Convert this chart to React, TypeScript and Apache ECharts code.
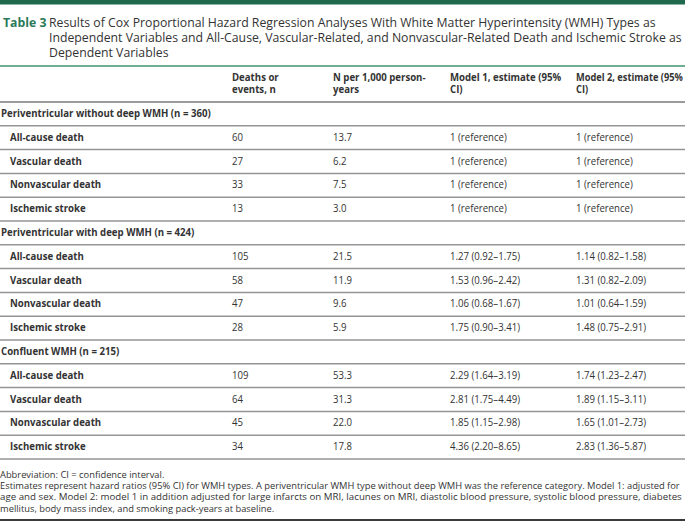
import React, { useEffect, useRef } from "react";
import * as echarts from "echarts";

// ---------- data ----------
const tableLabel = "Table 3";
const captionLines = [
  "Results of Cox Proportional Hazard Regression Analyses With White Matter Hyperintensity (WMH) Types as",
  "Independent Variables and All-Cause, Vascular-Related, and Nonvascular-Related Death and Ischemic Stroke as",
  "Dependent Variables",
];
const headerLines = [
  ["", ""],
  ["Deaths or", "events, n"],
  ["N per 1,000 person-", "years"],
  ["Model 1, estimate (95%", "CI)"],
  ["Model 2, estimate (95%", "CI)"],
];
const groups = [
  "Periventricular without deep WMH (n = 360)",
  "Periventricular with deep WMH (n = 424)",
  "Confluent WMH (n = 215)",
];
const outcomes = ["All-cause death", "Vascular death", "Nonvascular death", "Ischemic stroke"];
const events = [
  [60, 27, 33, 13],
  [105, 58, 47, 28],
  [109, 64, 45, 34],
];
const ratePer1000 = [
  [13.7, 6.2, 7.5, 3.0],
  [21.5, 11.9, 9.6, 5.9],
  [53.3, 31.3, 22.0, 17.8],
];
const isReference = [true, false, false];
const model1Est = [[1, 1, 1, 1], [1.27, 1.53, 1.06, 1.75], [2.29, 2.81, 1.85, 4.36]];
const model1Lo = [[1, 1, 1, 1], [0.92, 0.96, 0.68, 0.9], [1.64, 1.75, 1.15, 2.2]];
const model1Hi = [[1, 1, 1, 1], [1.75, 2.42, 1.67, 3.41], [3.19, 4.49, 2.98, 8.65]];
const model2Est = [[1, 1, 1, 1], [1.14, 1.31, 1.01, 1.48], [1.74, 1.89, 1.65, 2.83]];
const model2Lo = [[1, 1, 1, 1], [0.82, 0.82, 0.64, 0.75], [1.23, 1.15, 1.01, 1.36]];
const model2Hi = [[1, 1, 1, 1], [1.58, 2.09, 1.59, 2.91], [2.47, 3.11, 2.73, 5.87]];
const footnotes = [
  "Abbreviation: CI = confidence interval.",
  "Estimates represent hazard ratios (95% CI) for WMH types. A periventricular WMH type without deep WMH was the reference category. Model 1: adjusted for",
  "age and sex. Model 2: model 1 in addition adjusted for large infarcts on MRI, lacunes on MRI, diastolic blood pressure, systolic blood pressure, diabetes",
  "mellitus, body mass index, and smoking pack-years at baseline.",
];

// ---------- layout / style ----------
const W = 685;
const H = 523;
const COL_X = [10, 232, 333, 450, 576];
const GROUP_X = 1;
const FONT_FAMILY = '"Open Sans", "Noto Sans", sans-serif';
const BOLD_FONT = `bold 11px ${FONT_FAMILY}`;
const REG_FONT = `11px ${FONT_FAMILY}`;
const TITLE_FONT = `13px ${FONT_FAMILY}`;
const TITLE_BOLD_FONT = `bold 13px ${FONT_FAMILY}`;
const FOOT_FONT = `9.5px ${FONT_FAMILY}`;
const TEXT_COLOR = "#333333";
const GREEN_DARK = "#1f6a4e";
const GREEN_TEXT = "#2a7a5a";
const GREEN_RULE = "#6fae93";
const RULE_COLOR = "#959595";

type Row = { kind: "group" | "item"; cells: string[] };

function fmt(v: number) {
  return v.toFixed(2);
}

function buildRows(): Row[] {
  const rows: Row[] = [];
  groups.forEach((g, gi) => {
    rows.push({ kind: "group", cells: [g] });
    outcomes.forEach((o, oi) => {
      const m1 = isReference[gi]
        ? "1 (reference)"
        : `${fmt(model1Est[gi][oi])} (${fmt(model1Lo[gi][oi])}–${fmt(model1Hi[gi][oi])})`;
      const m2 = isReference[gi]
        ? "1 (reference)"
        : `${fmt(model2Est[gi][oi])} (${fmt(model2Lo[gi][oi])}–${fmt(model2Hi[gi][oi])})`;
      rows.push({
        kind: "item",
        cells: [o, String(events[gi][oi]), ratePer1000[gi][oi].toFixed(1), m1, m2],
      });
    });
  });
  return rows;
}

export default function App() {
  const ref = useRef<HTMLDivElement>(null);

  useEffect(() => {
    document.body.style.margin = "0";
    if (!ref.current) return;
    const canvas = document.createElement("canvas");
    const ctx = canvas.getContext("2d")!;
    const measure = (t: string, f: string) => {
      ctx.font = f;
      return ctx.measureText(t).width || 1;
    };
    const boldScale = 210 / measure(groups[0], BOLD_FONT);
    const regScale = 70 / measure("1.27 (0.92–1.75)", REG_FONT);
    const titleScale = 607 / measure(captionLines[0], TITLE_FONT);
    const footScale = 681 / measure(footnotes[1], FOOT_FONT);
    const foot3Scale = 682 / measure(footnotes[2], FOOT_FONT);
    const lastHeaderW = measure(headerLines[4][0], BOLD_FONT) * boldScale;
    const lastHeaderScale = lastHeaderW > W - COL_X[4] - 2 ? ((W - COL_X[4] - 2) / lastHeaderW) * boldScale : boldScale;

    const rows = buildRows();
    const chart = echarts.init(ref.current, null, { renderer: "svg" });

    const txt = (
      text: string,
      x: number,
      y: number,
      font: string,
      scaleX: number,
      fill = TEXT_COLOR
    ): any => ({
      type: "text",
      x,
      y,
      scaleX,
      silent: true,
      style: {
        text,
        font,
        fill,
        align: "left",
        textAlign: "left",
        verticalAlign: "middle",
        textVerticalAlign: "middle",
      },
    });

    const graphics: any[] = [
      { type: "rect", shape: { x: 0, y: 0, width: W, height: 4.5 }, style: { fill: GREEN_DARK }, silent: true },
      txt(tableLabel, 3, 21.5, TITLE_BOLD_FONT, titleScale, GREEN_TEXT),
      ...captionLines.map((l, i) => txt(l, 49, 21.5 + i * 15, TITLE_FONT, titleScale)),
      { type: "rect", shape: { x: 0, y: 65, width: W, height: 2 }, style: { fill: GREEN_RULE }, silent: true },
    ];
    headerLines.forEach((pair, c) => {
      pair.forEach((l, li) => {
        if (l) graphics.push(txt(l, COL_X[c], 77 + li * 12, BOLD_FONT, c === 4 ? lastHeaderScale : boldScale));
      });
    });
    footnotes.forEach((l, i) => {
      const s = i === 2 ? foot3Scale : footScale;
      graphics.push(txt(l, 0, 474 + i * 11.5, FOOT_FONT, s));
    });
    graphics.push({
      type: "rect",
      shape: { x: 0, y: 519, width: W, height: 2 },
      style: { fill: "#3a3a3a" },
      silent: true,
    });

    chart.setOption({
      animation: false,
      backgroundColor: "#ffffff",
      grid: { left: 0, right: 0, top: 102, bottom: 64, containLabel: false },
      xAxis: { type: "value", min: 0, max: W, show: false },
      yAxis: {
        type: "category",
        inverse: true,
        show: false,
        data: rows.map((_, i) => `r${i}`),
      },
      graphic: graphics,
      series: [
        {
          type: "custom",
          silent: true,
          data: rows.map((_, i) => [0, i]),
          renderItem: (params: any, api: any) => {
            const i = api.value(1) as number;
            const row = rows[i];
            const center = api.coord([0, i]);
            const h = (api.size([0, 1]) as number[])[1];
            const cy = center[1] - 1.2;
            const bottom = center[1] + h / 2;
            const top = center[1] - h / 2;
            const x0 = api.coord([0, i])[0];
            const x1 = api.coord([W, i])[0];
            const children: any[] = [];
            if (row.kind === "group") {
              children.push(txt(row.cells[0], api.coord([GROUP_X, i])[0], cy, BOLD_FONT, boldScale));
            } else {
              row.cells.forEach((c, ci) => {
                const x = api.coord([COL_X[ci], i])[0];
                children.push(
                  ci === 0 ? txt(c, x, cy, BOLD_FONT, boldScale) : txt(c, x, cy, REG_FONT, regScale)
                );
              });
            }
            children.push({
              type: "line",
              shape: { x1: x0, y1: bottom, x2: x1, y2: bottom },
              style: { stroke: RULE_COLOR, lineWidth: 1.5 },
            });
            if (i === 0) {
              children.push({
                type: "line",
                shape: { x1: x0, y1: top, x2: x1, y2: top },
                style: { stroke: "#7a7a7a", lineWidth: 1.5 },
              });
            }
            return { type: "group", children };
          },
        },
      ],
    });

    return () => chart.dispose();
  }, []);

  return (
    <div
      ref={ref}
      style={{ position: "fixed", left: 0, top: 0, width: W, height: H, background: "#fff" }}
    />
  );
}
